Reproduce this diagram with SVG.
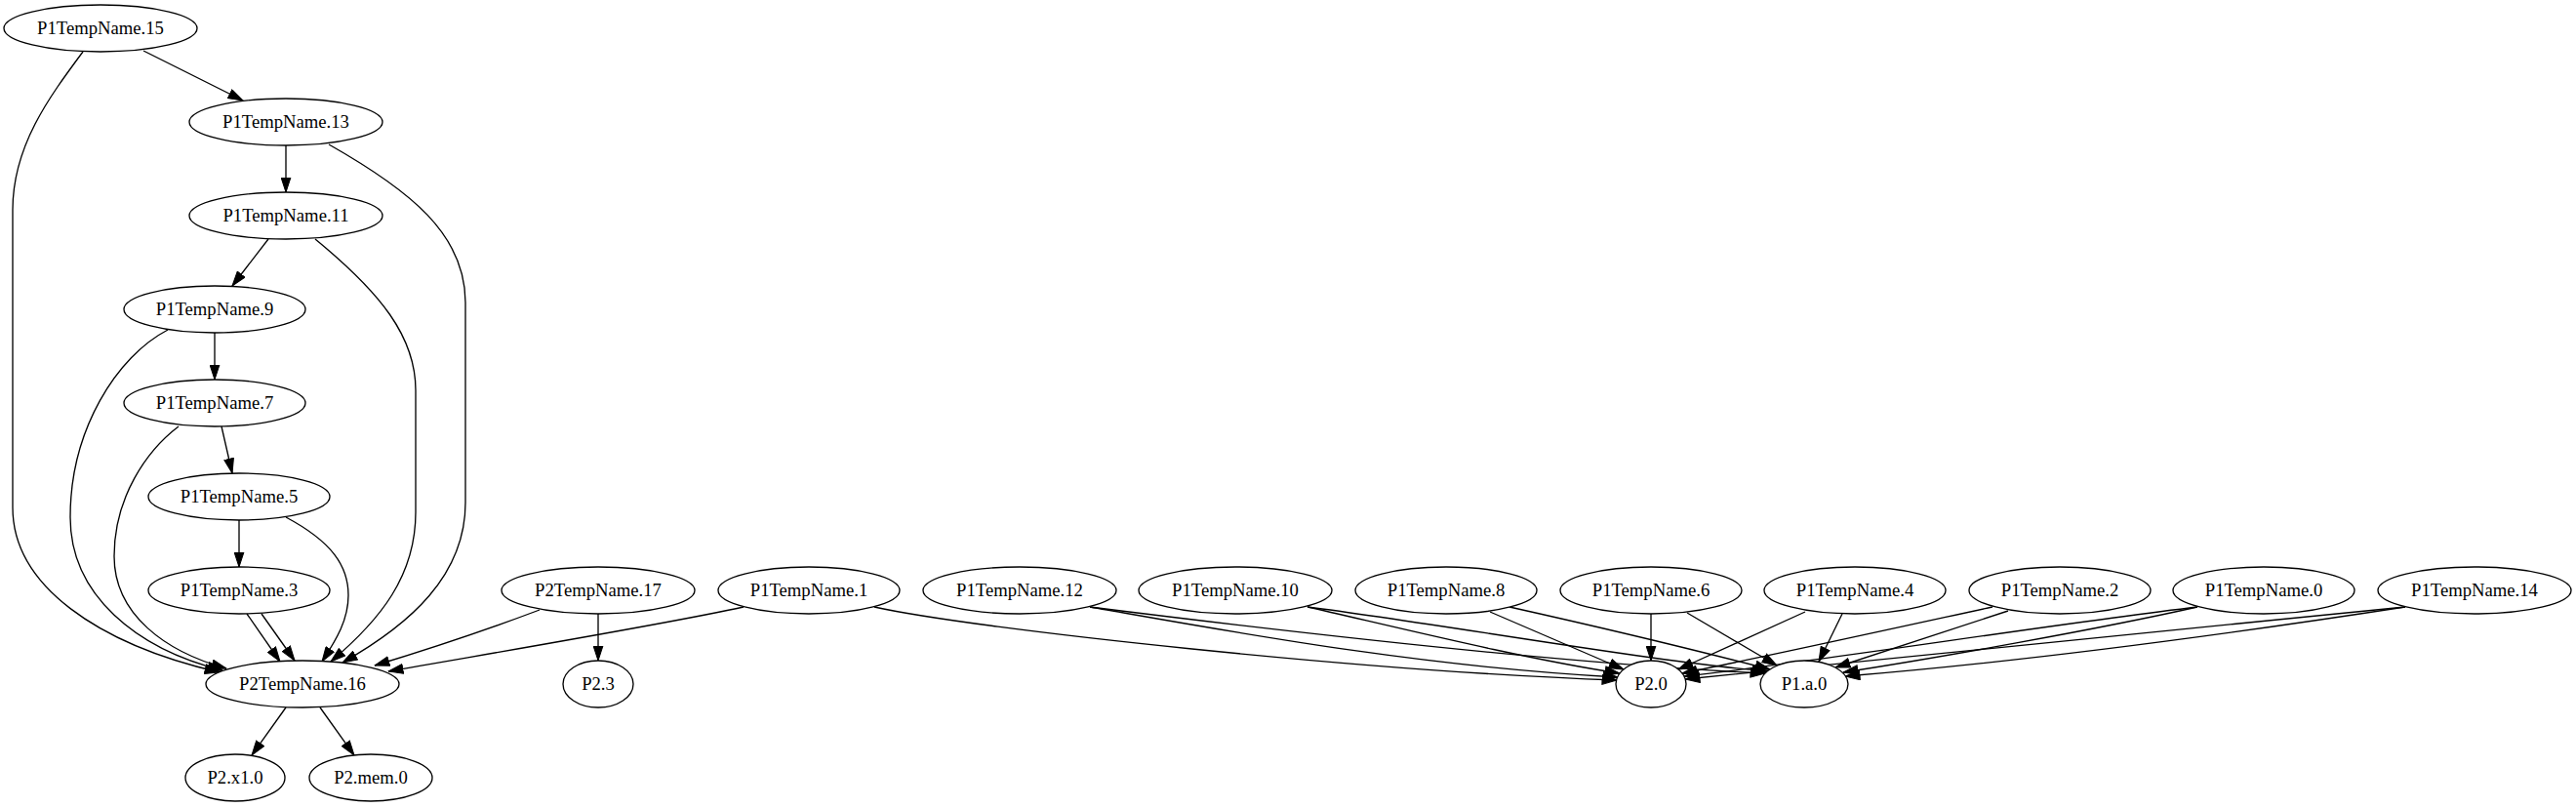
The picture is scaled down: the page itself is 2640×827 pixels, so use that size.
<svg xmlns="http://www.w3.org/2000/svg" width="2640" height="827" viewBox="0 0 2640 827">
<style>
.node ellipse{fill:#fff;stroke:#000;stroke-width:1.33}
.node text{font-family:"Liberation Serif","Times New Roman",serif;font-size:18.67px;text-anchor:middle;fill:#000}
.edges path{fill:none;stroke:#000;stroke-width:1.33;marker-end:url(#arr)}
</style>
<defs>
<marker id="arr" markerUnits="userSpaceOnUse" viewBox="0 0 16 11" markerWidth="16" markerHeight="11" refX="15.5" refY="5.5" orient="auto">
<path d="M0.5,0.6 L15.5,5.5 L0.5,10.4 Z" fill="#000" stroke="#000" stroke-width="1"/>
</marker>
</defs>
<rect width="2640" height="827" fill="#fff"/>
<g class="edges">
<path d="M147,52 L249,103"/>
<path d="M85,53 C50,100 13,150 13,215 L13,520 C13,600 100,660 225,689"/>
<path d="M293,149 L293,197"/>
<path d="M337,148 C420,195 477,240 477,310 L477,515 C477,590 420,640 351,679"/>
<path d="M275,245 L238,293"/>
<path d="M323,245 C390,300 426,345 426,400 L426,525 C426,590 390,635 339,678"/>
<path d="M220,341 L220,389"/>
<path d="M172,338 C120,365 72,440 72,530 C72,610 140,665 228,687"/>
<path d="M227,437 L238,485"/>
<path d="M183,437 C150,462 117,510 117,570 C117,630 170,668 232,685"/>
<path d="M245,533 L245,581"/>
<path d="M293,530 C340,555 357,580 357,610 C357,635 345,655 330,678"/>
<path d="M253,629 L287,678"/>
<path d="M268,629 L302,677"/>
<path d="M553,625 C500,645 440,665 384,682"/>
<path d="M613,629 L613,677"/>
<path d="M762,622 C680,640 500,670 398,688"/>
<path d="M293,725 L258,774"/>
<path d="M328,725 L363,774"/>
<path d="M896,622 C1000,645 1400,688 1657,697"/>
<path d="M1117,622 C1250,645 1450,683 1658,694"/>
<path d="M1117,622 C1300,645 1600,680 1809,690"/>
<path d="M1340,622 C1420,640 1560,675 1660,690"/>
<path d="M1340,622 C1480,640 1680,676 1811,688"/>
<path d="M1527,627 L1664,686"/>
<path d="M1547,622 C1650,645 1760,672 1814,686"/>
<path d="M1692,629 L1692,677"/>
<path d="M1729,628 L1821,682"/>
<path d="M1850,627 L1720,686"/>
<path d="M1888,629 L1864,678"/>
<path d="M2042,622 C1950,642 1800,675 1724,690"/>
<path d="M2058,626 L1881,684"/>
<path d="M2252,622 C2100,640 1850,680 1726,693"/>
<path d="M2252,622 C2150,645 1980,675 1889,689"/>
<path d="M2465,622 C2200,648 1900,680 1727,696"/>
<path d="M2465,622 C2250,655 2050,680 1891,693"/>
</g>
<g id="n15" class="node"><ellipse cx="103" cy="29" rx="99" ry="24"/><text x="103" y="35">P1TempName.15</text></g>
<g id="n13" class="node"><ellipse cx="293" cy="125" rx="99" ry="24"/><text x="293" y="131">P1TempName.13</text></g>
<g id="n11" class="node"><ellipse cx="293" cy="221" rx="99" ry="24"/><text x="293" y="227">P1TempName.11</text></g>
<g id="n9" class="node"><ellipse cx="220" cy="317" rx="93" ry="24"/><text x="220" y="323">P1TempName.9</text></g>
<g id="n7" class="node"><ellipse cx="220" cy="413" rx="93" ry="24"/><text x="220" y="419">P1TempName.7</text></g>
<g id="n5" class="node"><ellipse cx="245" cy="509" rx="93" ry="24"/><text x="245" y="515">P1TempName.5</text></g>
<g id="n3" class="node"><ellipse cx="245" cy="605" rx="93" ry="24"/><text x="245" y="611">P1TempName.3</text></g>
<g id="n16" class="node"><ellipse cx="310" cy="701" rx="99" ry="24"/><text x="310" y="707">P2TempName.16</text></g>
<g id="x1" class="node"><ellipse cx="241" cy="797" rx="51" ry="24"/><text x="241" y="803">P2.x1.0</text></g>
<g id="mem" class="node"><ellipse cx="380" cy="797" rx="63" ry="24"/><text x="380" y="803">P2.mem.0</text></g>
<g id="n17" class="node"><ellipse cx="613" cy="605" rx="99" ry="24"/><text x="613" y="611">P2TempName.17</text></g>
<g id="p23" class="node"><ellipse cx="613" cy="701" rx="36" ry="24"/><text x="613" y="707">P2.3</text></g>
<g id="n1" class="node"><ellipse cx="829" cy="605" rx="93" ry="24"/><text x="829" y="611">P1TempName.1</text></g>
<g id="n12" class="node"><ellipse cx="1045" cy="605" rx="99" ry="24"/><text x="1045" y="611">P1TempName.12</text></g>
<g id="n10" class="node"><ellipse cx="1266" cy="605" rx="99" ry="24"/><text x="1266" y="611">P1TempName.10</text></g>
<g id="n8" class="node"><ellipse cx="1482" cy="605" rx="93" ry="24"/><text x="1482" y="611">P1TempName.8</text></g>
<g id="n6" class="node"><ellipse cx="1692" cy="605" rx="93" ry="24"/><text x="1692" y="611">P1TempName.6</text></g>
<g id="p20" class="node"><ellipse cx="1692" cy="701" rx="36" ry="24"/><text x="1692" y="707">P2.0</text></g>
<g id="p1a0" class="node"><ellipse cx="1849" cy="701" rx="45" ry="24"/><text x="1849" y="707">P1.a.0</text></g>
<g id="n4" class="node"><ellipse cx="1901" cy="605" rx="93" ry="24"/><text x="1901" y="611">P1TempName.4</text></g>
<g id="n2" class="node"><ellipse cx="2111" cy="605" rx="93" ry="24"/><text x="2111" y="611">P1TempName.2</text></g>
<g id="n0" class="node"><ellipse cx="2320" cy="605" rx="93" ry="24"/><text x="2320" y="611">P1TempName.0</text></g>
<g id="n14" class="node"><ellipse cx="2536" cy="605" rx="99" ry="24"/><text x="2536" y="611">P1TempName.14</text></g>
</svg>
